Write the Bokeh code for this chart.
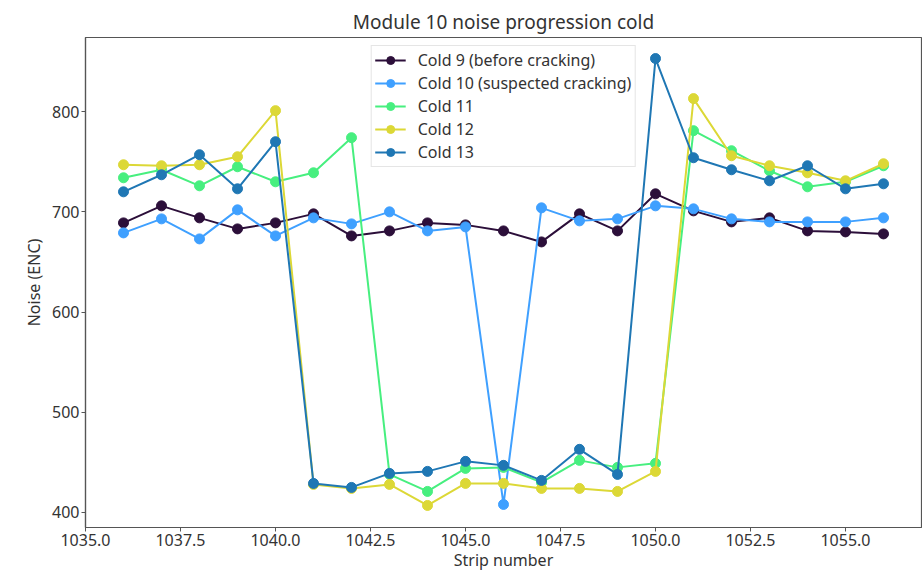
from bokeh.plotting import figure
from bokeh.models import FixedTicker, Range1d, Legend
from bokeh.embed import file_html
from bokeh.resources import INLINE

strips = list(range(1036, 1057))
cold9 = [689, 706, 694, 683, 689, 698, 676, 681, 689, 687, 681, 670, 698, 681, 718, 701, 690, 694, 681, 680, 678]
cold10 = [679, 693, 673, 702, 676, 694, 688, 700, 681, 685, 408, 704, 691, 693, 706, 703, 693, 690, 690, 690, 694]
cold11 = [734, 742, 726, 745, 730, 739, 774, 438, 421, 444, 445, 430, 452, 445, 449, 781, 761, 741, 725, 730, 746]
cold12 = [747, 746, 747, 755, 801, 428, 424, 428, 407, 429, 429, 424, 424, 421, 441, 813, 756, 746, 739, 731, 748]
cold13 = [720, 737, 757, 723, 770, 429, 425, 439, 441, 451, 447, 432, 463, 438, 853, 754, 742, 731, 746, 723, 728]

series_names = ["Cold 9 (before cracking)", "Cold 10 (suspected cracking)", "Cold 11", "Cold 12", "Cold 13"]
series_values = [cold9, cold10, cold11, cold12, cold13]
series_colors = ["#2c0f3a", "#3fa0ff", "#47ef7f", "#dcd836", "#1f77b4"]

x_ticks = [1035.0, 1037.5, 1040.0, 1042.5, 1045.0, 1047.5, 1050.0, 1052.5, 1055.0]
y_ticks = [400, 500, 600, 700, 800]

FONT = "Noto Sans"
TXT = "#333333"

p = figure(width=922, height=574, output_backend="svg", toolbar_location=None,
           x_range=Range1d(1035, 1057), y_range=Range1d(385, 874),
           title="Module 10 noise progression cold",
           min_border_left=85, min_border_right=1, min_border_top=37, min_border_bottom=47)

p.title.align = "center"
p.title.text_font = FONT
p.title.text_font_size = "19px"
p.title.text_font_style = "normal"
p.title.text_color = TXT
p.title.standoff = 6

p.xgrid.visible = False
p.ygrid.visible = False
p.outline_line_color = "#555555"
p.outline_line_width = 1.2

for ax in (p.xaxis, p.yaxis):
    ax.axis_line_color = "#555555"
    ax.axis_line_width = 1.2
    ax.major_tick_line_color = "#555555"
    ax.major_tick_out = 4
    ax.major_tick_in = 0
    ax.minor_tick_line_color = None
    ax.major_label_text_font = FONT
    ax.major_label_text_font_size = "16px"
    ax.major_label_text_color = TXT
    ax.axis_label_text_font = FONT
    ax.axis_label_text_font_size = "16px"
    ax.axis_label_text_font_style = "normal"
    ax.axis_label_text_color = TXT
    ax.major_label_standoff = 2
    ax.axis_label_standoff = 4

p.xaxis.ticker = FixedTicker(ticks=x_ticks)
p.xaxis.major_label_overrides = {t: f"{t:.1f}" for t in x_ticks}
p.yaxis.ticker = FixedTicker(ticks=y_ticks)
p.xaxis.axis_label = "Strip number"
p.yaxis.axis_label = "Noise (ENC)"
p.xaxis.axis_label_standoff = 0

items = []
for name, vals, col in zip(series_names, series_values, series_colors):
    l = p.line(strips, vals, line_color=col, line_width=2)
    s = p.scatter(strips, vals, size=10, fill_color=col, line_color=col)
    items.append((name, [l, s]))

legend = Legend(items=items, location="top_center")
legend.margin = 8
legend.padding = 3
legend.spacing = 1
legend.label_height = 20
legend.glyph_height = 20
legend.glyph_width = 31
legend.label_standoff = 12
legend.label_text_font = FONT
legend.label_text_font_size = "16px"
legend.label_text_color = TXT
legend.border_line_color = "#cccccc"
legend.border_line_width = 1
legend.background_fill_alpha = 0.85
p.add_layout(legend, "center")

open("out.html", "w").write(file_html(p, INLINE))
